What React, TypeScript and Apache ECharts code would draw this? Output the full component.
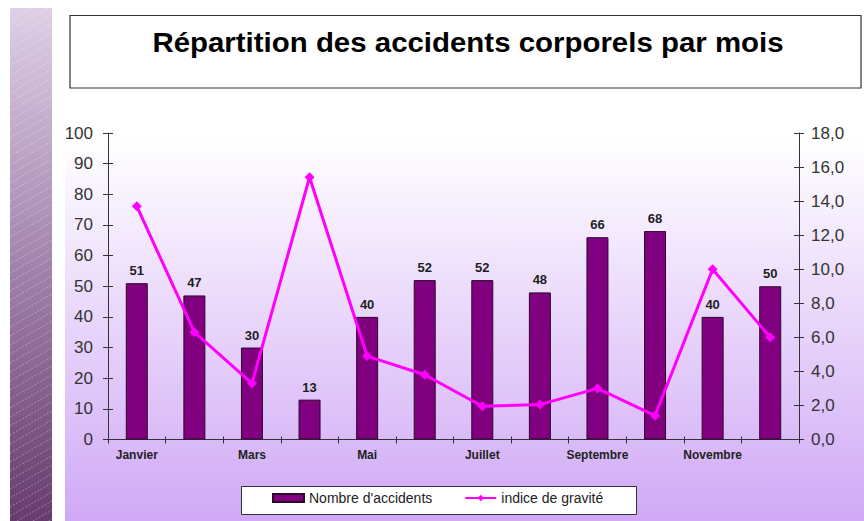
import React, { useEffect, useRef } from "react";
import * as echarts from "echarts";

const months = ["Janvier", "Février", "Mars", "Avril", "Mai", "Juin", "Juillet", "Août", "Septembre", "Octobre", "Novembre", "Décembre"];
const accidents = [51, 47, 30, 13, 40, 52, 52, 48, 66, 68, 40, 50];
const gravite = [13.7, 6.3, 3.3, 15.4, 4.9, 3.8, 1.95, 2.05, 3.0, 1.4, 10.0, 6.0];
const leftTicks = { min: 0, max: 100, interval: 10 };
const rightTicks = { min: 0, max: 18, interval: 2 };
const title = "Répartition des accidents corporels par mois";
const seriesNames = ["Nombre d'accidents", "indice de gravité"];

const FONT = "'Liberation Sans', Arial, sans-serif";

export default function App() {
  const ref = useRef<HTMLDivElement>(null);
  useEffect(() => {
    if (!ref.current) return;
    const chart = echarts.init(ref.current, null, { renderer: "svg" });

    // decorative stripe lines
    const stripe: any[] = [];
    const sx0 = 10, sx1 = 52, sy0 = 8, sy1 = 521;
    const rise = 24;
    for (let y = sy0 + 4; y < sy1 + rise; y += 9) {
      let x1 = sx0, y1 = y, x2 = sx1, y2 = y - rise;
      const slope = -rise / (sx1 - sx0);
      if (y1 > sy1) { x1 = sx0 + (sy1 - y) / slope; y1 = sy1; }
      if (y2 < sy0) { x2 = sx0 + (sy0 - y) / slope; y2 = sy0; }
      if (x1 >= x2) continue;
      stripe.push({
        type: "line",
        silent: true,
        shape: { x1, y1, x2, y2 },
        style: { stroke: "rgba(255,255,255,0.4)", lineWidth: 0.8, lineDash: [2, 1.5] },
        z: -9,
      });
    }

    chart.setOption({
      animation: false,
      textStyle: { fontFamily: FONT },
      graphic: [
        {
          type: "rect",
          silent: true,
          shape: { x: 65, y: 95, width: 799, height: 426 },
          style: {
            fill: new echarts.graphic.LinearGradient(0, 0, 0, 1, [
              { offset: 0, color: "#ffffff" },
              { offset: 0.1, color: "#ffffff" },
              { offset: 1, color: "#d0a9f6" },
            ]),
          },
          z: -20,
        },
        {
          type: "rect",
          silent: true,
          shape: { x: sx0, y: sy0, width: sx1 - sx0, height: sy1 - sy0 },
          style: {
            fill: new echarts.graphic.LinearGradient(0, 0, 0, 1, [
              { offset: 0, color: "#dfcfe6" },
              { offset: 0.5, color: "#a283ad" },
              { offset: 1, color: "#683b6e" },
            ]),
          },
          z: -10,
        },
        ...stripe,
        {
          type: "rect",
          silent: true,
          shape: { x: 70, y: 15.5, width: 791, height: 72.5 },
          style: { fill: "#ffffff", stroke: "#333333", lineWidth: 1.2 },
          z: -5,
        },
        {
          type: "text",
          silent: true,
          x: 468,
          y: 42,
          scaleX: 1.09,
          style: {
            text: title,
            fill: "#000000",
            font: `bold 27px ${FONT}`,
            align: "center",
            verticalAlign: "middle",
          },
        },
        {
          type: "rect",
          silent: true,
          shape: { x: 241.5, y: 486.5, width: 395, height: 28 },
          style: { fill: "#ffffff", stroke: "#333333", lineWidth: 1 },
          z: -5,
        },
      ],
      legend: {
        left: 272,
        top: 491,
        itemWidth: 31,
        itemHeight: 8,
        itemGap: 32,
        padding: 0,
        textStyle: { fontSize: 14, color: "#222222", fontFamily: FONT },
        data: [
          { name: seriesNames[0], icon: "rect" },
          { name: seriesNames[1] },
        ],
      },
      grid: { left: 108, right: 65, top: 133, bottom: 81.5, containLabel: false },
      xAxis: [
        {
          type: "category",
          data: months,
          position: "bottom",
          boundaryGap: true,
          axisLine: { lineStyle: { color: "#333333", width: 1 } },
          axisTick: { show: true, length: 4, lineStyle: { color: "#333333" }, alignWithLabel: false, interval: 0 },
          axisLabel: {
            interval: 1,
            margin: 9,
            fontSize: 12,
            fontWeight: "bold",
            color: "#222222",
            fontFamily: FONT,
          },
        },
        {
          type: "category",
          data: months,
          position: "bottom",
          boundaryGap: true,
          axisLine: { show: false },
          axisTick: { show: true, inside: true, length: 3, lineStyle: { color: "#333333" }, interval: 0 },
          axisLabel: { show: false },
        },
      ],
      yAxis: [
        {
          type: "value",
          position: "left",
          ...leftTicks,
          splitLine: { show: false },
          axisLine: { show: true, lineStyle: { color: "#333333" } },
          axisTick: { show: true, length: 5, lineStyle: { color: "#333333" } },
          axisLabel: { margin: 15, fontSize: 17, color: "#333333", fontFamily: FONT },
        },
        {
          type: "value",
          position: "right",
          ...rightTicks,
          splitLine: { show: false },
          axisLine: { show: true, lineStyle: { color: "#333333" } },
          axisTick: { show: true, length: 5, lineStyle: { color: "#333333" } },
          axisLabel: {
            margin: 12,
            fontSize: 17,
            color: "#333333",
            fontFamily: FONT,
            formatter: (v: number) => v.toFixed(1).replace(".", ","),
          },
        },
        {
          type: "value",
          position: "left",
          ...leftTicks,
          splitLine: { show: false },
          axisLine: { show: false },
          axisTick: { show: true, inside: true, length: 5, lineStyle: { color: "#333333" } },
          axisLabel: { show: false },
        },
        {
          type: "value",
          position: "right",
          ...rightTicks,
          splitLine: { show: false },
          axisLine: { show: false },
          axisTick: { show: true, inside: true, length: 5, lineStyle: { color: "#333333" } },
          axisLabel: { show: false },
        },
      ],
      series: [
        {
          name: seriesNames[0],
          type: "bar",
          xAxisIndex: 0,
          yAxisIndex: 0,
          data: accidents,
          barWidth: 22,
          itemStyle: { color: "#800080", borderColor: "#2b0a2b", borderWidth: 1 },
          label: {
            show: true,
            position: "top",
            distance: 6,
            fontSize: 13,
            fontWeight: "bold",
            color: "#1e1e1e",
            fontFamily: FONT,
          },
          z: 2,
        },
        {
          name: seriesNames[1],
          type: "line",
          xAxisIndex: 0,
          yAxisIndex: 1,
          data: gravite,
          symbol: "diamond",
          symbolSize: 10,
          lineStyle: { color: "#ff00ff", width: 3 },
          itemStyle: { color: "#ff00ff" },
          z: 3,
        },
      ],
    });
    return () => chart.dispose();
  }, []);
  return (
    <div
      ref={ref}
      style={{ position: "absolute", left: 0, top: 0, width: 864, height: 521 }}
    />
  );
}
